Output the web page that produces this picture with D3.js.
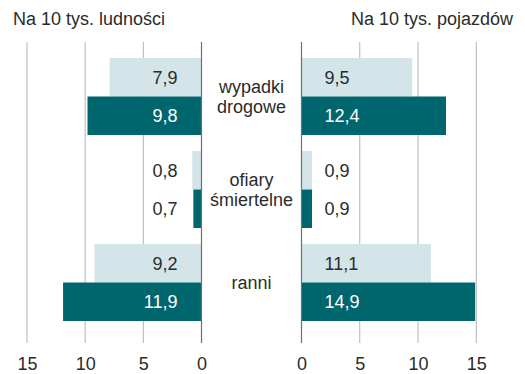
<!DOCTYPE html>
<html>
<head>
<meta charset="utf-8">
<script src="https://cdn.jsdelivr.net/npm/d3@7"></script>
<style>
  html, body { margin: 0; padding: 0; background: #fff; }
  svg { display: block; font-family: "Liberation Sans", Arial, sans-serif; }
</style>
</head>
<body>
<svg id="chart" width="525" height="374"></svg>
<script>
// Categories (two-line labels) and values per 10 thousand
const categories = ["wypadki drogowe", "ofiary śmiertelne", "ranni"];
const categoryLines = [["wypadki", "drogowe"], ["ofiary", "śmiertelne"], ["ranni"]];
const perPopulationPrev = [7.9, 0.8, 9.2];
const perPopulationCurr = [9.8, 0.7, 11.9];
const perVehiclesPrev = [9.5, 0.9, 11.1];
const perVehiclesCurr = [12.4, 0.9, 14.9];
const tickValues = [0, 5, 10, 15];
const leftTitle = "Na 10 tys. ludności";
const rightTitle = "Na 10 tys. pojazdów";

const fmt = v => d3.format(".1f")(v).replace(".", ",");

const svg = d3.select("#chart");
const lightColor = "#d3e5e9";
const darkColor = "#00666e";
const textColor = "#2b2b2b";
const fontSize = 18;

const xLeft = d3.scaleLinear().domain([0, 15]).range([201.5, 27]);
const xRight = d3.scaleLinear().domain([0, 15]).range([301.5, 476.3]);

const y = d3.scaleBand().domain(categories).range([58, 321]).paddingInner(0.172).paddingOuter(0);
const sub = d3.scaleBand().domain(["prev", "curr"]).range([0, y.bandwidth()]);

const gridTop = 42, gridBottom = 343;

// Vertical gridlines
function grid(scale) {
  svg.append("g").selectAll("line")
    .data(tickValues.filter(d => d !== 0))
    .join("line")
    .attr("x1", d => scale(d)).attr("x2", d => scale(d))
    .attr("y1", gridTop).attr("y2", gridBottom)
    .attr("stroke", "#b4b4b4").attr("stroke-width", 1);
}
grid(xLeft);
grid(xRight);

// Bars with value labels; labels on short dark bars sit on white, so they stay dark
function bars(scale, prev, curr, side) {
  const rows = categories.map((c, i) => ({ c, prev: prev[i], curr: curr[i] }));
  const g = svg.append("g");
  ["prev", "curr"].forEach(key => {
    g.selectAll("rect." + key)
      .data(rows)
      .join("rect")
      .attr("class", key)
      .attr("x", d => Math.min(scale(0), scale(d[key])))
      .attr("width", d => Math.abs(scale(d[key]) - scale(0)))
      .attr("y", d => y(d.c) + sub(key))
      .attr("height", sub.bandwidth())
      .attr("fill", key === "prev" ? lightColor : darkColor);

    g.selectAll("text." + key)
      .data(rows)
      .join("text")
      .attr("class", key)
      .attr("x", side === "left" ? scale(0) - 24 : scale(0) + 23)
      .attr("y", d => y(d.c) + sub(key) + sub.bandwidth() / 2)
      .attr("dy", "0.35em")
      .attr("text-anchor", side === "left" ? "end" : "start")
      .attr("font-size", fontSize)
      .attr("fill", d => (key === "curr" && Math.abs(scale(d[key]) - scale(0)) > 60) ? "#ffffff" : textColor)
      .text(d => fmt(d[key]));
  });
}
bars(xLeft, perPopulationPrev, perPopulationCurr, "left");
bars(xRight, perVehiclesPrev, perVehiclesCurr, "right");

// Zero lines
[xLeft, xRight].forEach(scale => {
  svg.append("line")
    .attr("x1", scale(0)).attr("x2", scale(0))
    .attr("y1", gridTop).attr("y2", gridBottom)
    .attr("stroke", "#707070").attr("stroke-width", 1.2);
});

// Axes (labels only)
function axis(scale) {
  const g = svg.append("g")
    .attr("transform", `translate(0,${gridBottom})`)
    .call(d3.axisBottom(scale).tickValues(tickValues).tickSize(0).tickPadding(14).tickFormat(d3.format("d")));
  g.select(".domain").remove();
  g.selectAll("text")
    .attr("font-family", "Liberation Sans, Arial, sans-serif")
    .attr("font-size", fontSize).attr("fill", textColor);
}
axis(xLeft);
axis(xRight);

// Category labels in the middle
const mid = (xLeft(0) + xRight(0)) / 2;
categories.forEach((c, i) => {
  const lines = categoryLines[i];
  const cy = y(c) + y.bandwidth() / 2;
  const lh = 19.5;
  const t = svg.append("text")
    .attr("x", mid).attr("text-anchor", "middle")
    .attr("font-size", fontSize).attr("fill", textColor);
  lines.forEach((l, j) => {
    t.append("tspan")
      .attr("x", mid)
      .attr("y", cy + (j - (lines.length - 1) / 2) * lh)
      .attr("dy", "0.35em")
      .text(l);
  });
});

// Titles
svg.append("text").attr("x", 13).attr("y", 25)
  .attr("font-size", fontSize).attr("fill", textColor).text(leftTitle);
svg.append("text").attr("x", 513).attr("y", 25).attr("text-anchor", "end")
  .attr("font-size", fontSize).attr("fill", textColor).text(rightTitle);
</script>
</body>
</html>
